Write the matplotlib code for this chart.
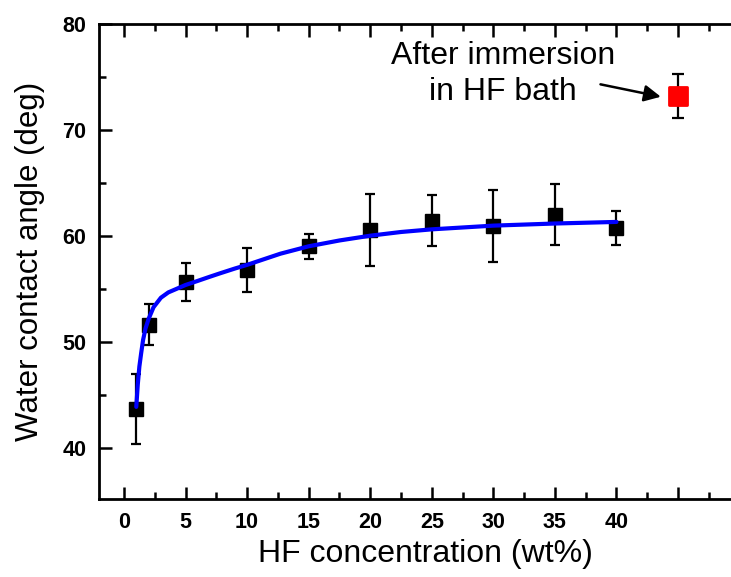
import numpy as np
import matplotlib.pyplot as plt
from matplotlib.markers import MarkerStyle
from matplotlib.ticker import MultipleLocator

plt.rcParams['font.family'] = ['Liberation Sans', 'DejaVu Sans']

# datos
conc = [1, 2, 5, 10, 15, 20, 25, 30, 35, 40]
angulo = [43.7, 51.65, 55.7, 56.8, 59.05, 60.6, 61.45, 61.0, 62.05, 60.75]
error = [3.3, 1.95, 1.8, 2.1, 1.2, 3.4, 2.4, 3.4, 2.9, 1.6]

# punto despues del bano de HF
bano_x = [45]
bano_y = [73.25]
bano_err = [2.05]

# curva de ajuste (azul), leida punto a punto
ajuste_x = [1.0, 1.12, 1.25, 1.4, 1.55, 1.75, 2.0, 2.4, 3.0, 3.6, 4.3, 5.0,
            5.9, 6.9, 7.8, 9.0, 10, 12.7, 15, 17.5, 20, 22.5, 25, 30, 35, 40]
ajuste_y = [43.9, 46.0, 47.7, 49.0, 50.2, 51.3, 52.2, 53.3, 54.2, 54.7, 55.05,
            55.4, 55.75, 56.15, 56.5, 56.95, 57.3, 58.35, 59.05, 59.6, 60.05,
            60.4, 60.65, 61.0, 61.2, 61.35]

# etiquetas de los ejes
ticks_x = [0, 5, 10, 15, 20, 25, 30, 35, 40, 45]
etiquetas_x = ['0', '5', '10', '15', '20', '25', '30', '35', '40', '']
ticks_y = [40, 50, 60, 70, 80]
etiquetas_y = ['40', '50', '60', '70', '80']

fig = plt.figure(figsize=(7.31, 5.77), dpi=100)
ax = fig.add_axes([0.1354, 0.135, 1 - 0.1354, 0.958 - 0.135])

ax.errorbar(conc, angulo, yerr=error, fmt='s', color='black', ms=9.5,
            ecolor='black', elinewidth=1.6, capsize=3.8, capthick=1.6, zorder=3)
ax.plot(ajuste_x, ajuste_y, color='#0000ff', lw=3, zorder=4,
        solid_capstyle='round', solid_joinstyle='round')

ax.errorbar(bano_x, bano_y, yerr=bano_err, fmt='none', ecolor='black',
            elinewidth=1.6, capsize=4.3, capthick=1.6, zorder=3)
ax.plot(bano_x, bano_y, linestyle='none',
        marker=MarkerStyle('s', joinstyle='round'), ms=13, color='#ff0000',
        mec='#ff0000', mew=2, zorder=4)

ax.annotate('', xy=(43.6, 73.16), xytext=(38.7, 74.33),
            arrowprops=dict(arrowstyle='-|>', color='black', lw=1.8,
                            mutation_scale=25, shrinkA=0, shrinkB=0))
ax.text(30.8, 75.3, 'After immersion\nin HF bath', ha='center', va='center',
        fontsize=23, linespacing=1.25)

ax.set_xlim(-2.03, 49.3)
ax.set_ylim(35.2, 80)
ax.set_xticks(ticks_x)
ax.set_xticklabels(etiquetas_x, fontsize=15.5, fontweight='bold')
ax.xaxis.set_minor_locator(MultipleLocator(2.5))
ax.set_yticks(ticks_y)
ax.set_yticklabels(etiquetas_y, fontsize=15.5, fontweight='bold')
ax.yaxis.set_minor_locator(MultipleLocator(5))

ax.tick_params(which='both', direction='in', width=1.8, top=True,
               labeltop=False, right=False, pad=9)
ax.tick_params(which='major', length=9)
ax.tick_params(which='minor', length=5)

for lado in ['left', 'bottom', 'top']:
    ax.spines[lado].set_linewidth(2)
ax.spines['right'].set_visible(False)

ax.set_xlabel('HF concentration (wt%)', fontsize=23)
ax.set_ylabel('Water contact angle (deg)', fontsize=22.5)
ax.xaxis.set_label_coords(0.516, -0.083)
ax.yaxis.set_label_coords(-0.085, 0.5)

fig.savefig('out.png', dpi=100)
